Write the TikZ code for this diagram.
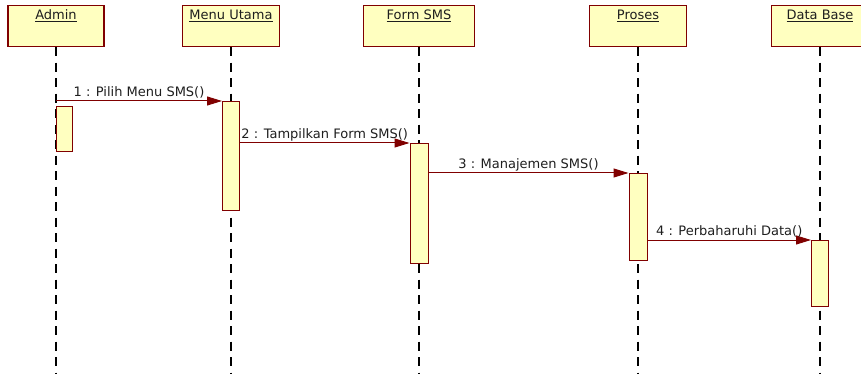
\documentclass[tikz,border=0pt]{standalone}
\usepackage{fontspec}
\setmainfont{DejaVu Sans}
\usetikzlibrary{arrows.meta}
\definecolor{umlred}{HTML}{800000}
\definecolor{umlfill}{HTML}{FFFFC0}
\definecolor{umltext}{HTML}{1E1E1E}
\begin{document}
\begin{tikzpicture}[x=1pt,y=-1pt,
  font=\fontsize{13}{15}\selectfont,
  objbox/.style={draw=umlred, line width=1.2pt, fill=umlfill,
    minimum height=41pt, inner sep=0pt, anchor=north},
  objtitle/.style={anchor=base, inner sep=0pt, text=umltext},
  lifeline/.style={draw=black, line width=1.1pt, dash pattern=on 9pt off 6.5pt},
  actbox/.style={draw=umlred, line width=1pt, fill=umlfill,
    minimum width=17pt, inner sep=0pt, anchor=north},
  msg/.style={draw=umlred, line width=1pt,
    -{Triangle[length=15pt,width=9pt,fill=umlred]}},
  msglabel/.style={midway, anchor=base, yshift=4.5pt, inner sep=0pt, text=umltext}
]
\useasboundingbox (0,0) rectangle (861,374);
\clip (0,0) rectangle (861,374);

% object headers
\node[objbox, minimum width=96pt]  (admin) at (56,5)  {};
\node[objbox, minimum width=97pt]  (mu)    at (231,5) {};
\node[objbox, minimum width=111pt] (fs)    at (419,5) {};
\node[objbox, minimum width=97pt]  (pr)    at (638,5) {};
\node[objbox, minimum width=97pt]  (db)    at (820,5) {};

\node[objtitle] at ([yshift=-14.5pt]admin.north) {\underline{Admin}};
\node[objtitle] at ([yshift=-14.5pt]mu.north)    {\underline{Menu Utama}};
\node[objtitle] at ([yshift=-14.5pt]fs.north)    {\underline{Form SMS}};
\node[objtitle] at ([yshift=-14.5pt]pr.north)    {\underline{Proses}};
\node[objtitle] at ([yshift=-14.5pt]db.north)    {\underline{Data Base}};

% lifelines
\coordinate (bottom) at (0,374);
\foreach \o in {admin,mu,fs,pr,db}
  \draw[lifeline] (\o.south) -- (\o.south |- bottom);

% activation bars
\node[actbox, minimum width=16pt, minimum height=45pt, anchor=north west] (admin-act) at (56,106) {};
\node[actbox, minimum height=109pt] (mu-act) at (231,101) {};
\node[actbox, minimum width=18pt, minimum height=120pt] (fs-act) at (419,143) {};
\node[actbox, minimum width=18pt, minimum height=87pt]  (pr-act) at (638,173) {};
\node[actbox, minimum height=66pt] (db-act) at (820,240) {};

% messages
\coordinate (m1) at (admin.south |- mu-act.north);
\draw[msg] (m1) -- node[msglabel] {1 : Pilih Menu SMS()} (mu-act.north west);
\draw[msg] (mu-act.east |- fs-act.north) -- node[msglabel] {2 : Tampilkan Form SMS()} (fs-act.north west);
\draw[msg] (fs-act.east |- pr-act.north) -- node[msglabel] {3 : Manajemen SMS()} (pr-act.north west);
\draw[msg] (pr-act.east |- db-act.north) -- node[msglabel] {4 : Perbaharuhi Data()} (db-act.north west);
\end{tikzpicture}
\end{document}
